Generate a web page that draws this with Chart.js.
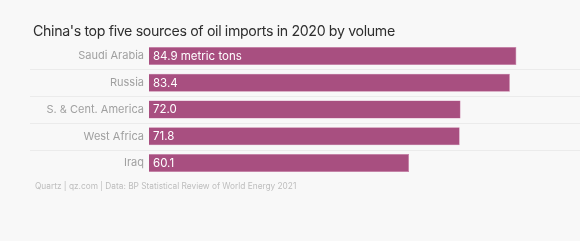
<!DOCTYPE html>
<html>
<head>
<meta charset="utf-8">
<script src="https://cdn.jsdelivr.net/npm/chart.js@4/dist/chart.umd.min.js"></script>
<style>
  html, body { margin: 0; padding: 0; background: #f8f8f8; }
  #wrap { position: relative; width: 580px; height: 241px; overflow: hidden; }
  #title { position: absolute; left: 33px; top: 22px; font-family: Inter, "Open Sans", sans-serif; font-size: 14.2px; color: #2e2e2e; letter-spacing: -0.35px; white-space: nowrap; }
  #foot { position: absolute; left: 35px; top: 181px; font-family: Inter, "Open Sans", sans-serif; font-size: 8.3px; color: #bdbdbd; white-space: nowrap; }
  canvas { position: absolute; left: 0; top: 0; }
</style>
</head>
<body>
<div id="wrap">
  <canvas id="c" width="580" height="241"></canvas>
  <div id="title">China's top five sources of oil imports in 2020 by volume</div>
  <div id="foot">Quartz | qz.com | Data: BP Statistical Review of World Energy 2021</div>
</div>
<script>
const categories = ["Saudi Arabia", "Russia", "S. & Cent. America", "West Africa", "Iraq"];
const values = [84.9, 83.4, 72.0, 71.8, 60.1];
const valueLabels = ["84.9 metric tons", "83.4", "72.0", "71.8", "60.1"];

const separators = {
  id: 'separators',
  beforeDatasetsDraw(chart) {
    const y = chart.scales.y, ctx = chart.ctx;
    ctx.save();
    ctx.strokeStyle = '#ebebeb';
    ctx.lineWidth = 1;
    for (let i = 0; i < categories.length - 1; i++) {
      const py = Math.round((y.getPixelForValue(i) + y.getPixelForValue(i + 1)) / 2) + 0.5;
      ctx.beginPath();
      ctx.moveTo(30, py);
      ctx.lineTo(chart.width, py);
      ctx.stroke();
    }
    ctx.restore();
  }
};

const barLabels = {
  id: 'barLabels',
  afterDatasetsDraw(chart) {
    const ctx = chart.ctx;
    const meta = chart.getDatasetMeta(0);
    ctx.save();
    ctx.fillStyle = '#ffffff';
    ctx.font = '11.5px Inter, "Open Sans", sans-serif';
    ctx.textBaseline = 'middle';
    ctx.textAlign = 'left';
    meta.data.forEach((bar, i) => {
      ctx.fillText(valueLabels[i], bar.base + 4, bar.y + 0.5);
    });
    ctx.restore();
  }
};

new Chart(document.getElementById('c'), {
  type: 'bar',
  data: {
    labels: categories,
    datasets: [{
      data: values,
      backgroundColor: '#a84f80',
      borderColor: '#c97aa6',
      borderWidth: 0.6,
      barPercentage: 0.68,
      categoryPercentage: 1.0
    }]
  },
  options: {
    indexAxis: 'y',
    responsive: false,
    animation: false,
    layout: { padding: { top: 42.6, bottom: 64.6, left: 0, right: 0 } },
    plugins: { legend: { display: false }, tooltip: { enabled: false } },
    scales: {
      x: { display: false, min: 0, max: 99.6 },
      y: {
        afterFit(scale) { scale.width = 149; },
        grid: { display: false, drawTicks: false },
        border: { display: false },
        ticks: {
          color: '#a0a0a0',
          padding: 5,
          font: { family: 'Inter, "Open Sans", sans-serif', size: 11 }
        }
      }
    }
  },
  plugins: [separators, barLabels]
});
</script>
</body>
</html>
